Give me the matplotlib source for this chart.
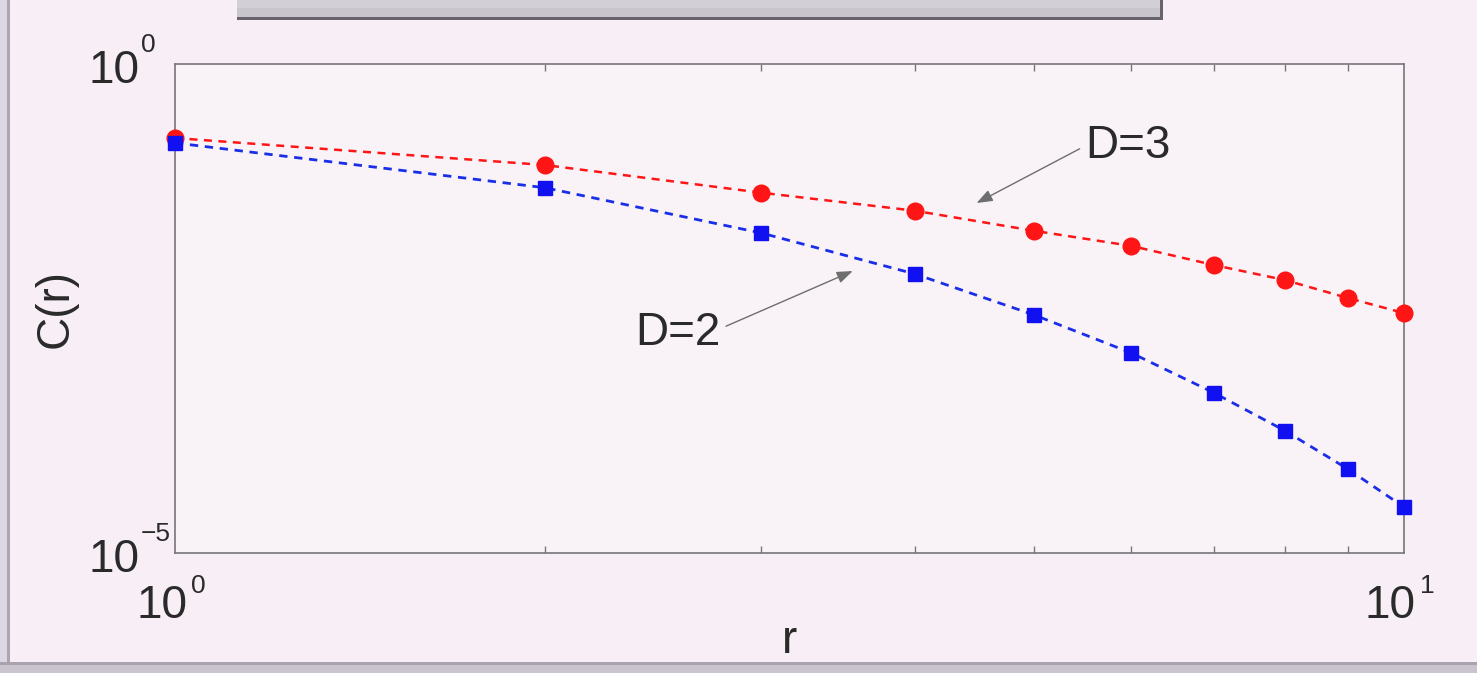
import matplotlib
matplotlib.use("Agg")
import matplotlib.pyplot as plt
from matplotlib.patches import Rectangle
from matplotlib.ticker import FixedLocator, NullLocator, NullFormatter
from matplotlib.transforms import blended_transform_factory, ScaledTranslation

plt.rcParams["font.family"] = ["Liberation Sans", "DejaVu Sans"]

# correlation function C(r) versus distance r
r = [1, 2, 3, 4, 5, 6, 7, 8, 9, 10]
c_d3 = [0.175, 0.0927, 0.0483, 0.0316, 0.0197, 0.0138, 0.00881, 0.00618, 0.00405, 0.00284]
c_d2 = [0.156, 0.0543, 0.0187, 0.00713, 0.00272, 0.00111, 0.000436, 0.000178, 7.23e-5, 2.95e-5]

x_limits = [1, 10]
y_limits = [1e-5, 1e0]
x_ticks = [1, 10]
x_exponents = ["0", "1"]
x_minor = [2, 3, 4, 5, 6, 7, 8, 9]
y_ticks = [1e-5, 1e0]
y_exponents = ["\u22125", "0"]

W, H = 1477, 673
DPI = 100
fig = plt.figure(figsize=(W / DPI, H / DPI), dpi=DPI, facecolor="#f7eff5")
TXT = "#2a2a2a"
FS = 33
FS_EXP = 19


def px_rect(x0, y0, x1, y1, **kw):
    # rectangle given in pixel coordinates measured from the top-left corner
    fig.add_artist(Rectangle((x0 / W, 1 - y1 / H), (x1 - x0) / W, (y1 - y0) / H,
                             transform=fig.transFigure, **kw))


def shift(base, dx, dy):
    # offset a transform by a number of pixels (dy positive = downwards)
    return base + ScaledTranslation(dx / DPI, -dy / DPI, fig.dpi_scale_trans)


# slide frame around the figure
px_rect(0, 0, 8, H, facecolor="#dcd7e0", edgecolor="none")
px_rect(7, 0, 10, H, facecolor="#aaa5b0", edgecolor="none")
px_rect(0, 664, W, H, facecolor="#c9c4cd", edgecolor="none")
px_rect(0, 662, W, 665, facecolor="#a8a3ad", edgecolor="none")
# title box along the top edge
px_rect(237, 0, 1163, 19, facecolor="#c9c5cd", edgecolor="none")
px_rect(237, 0, 1163, 8, facecolor="#d3cfd6", edgecolor="none")
px_rect(237, 17, 1163, 20, facecolor="#66636c", edgecolor="none")
px_rect(1160, 0, 1163, 20, facecolor="#66636c", edgecolor="none")

ax = fig.add_axes([175 / W, 1 - 553 / H, (1404 - 175) / W, (553 - 64) / H])
ax.set_facecolor("#f9f3f8")
ax.set_xscale("log")
ax.set_yscale("log")
ax.set_xlim(x_limits)
ax.set_ylim(y_limits)

ax.plot(r, c_d3, color="#ff1515", ls="--", lw=1.8, dashes=(3.2, 2.6),
        marker="o", ms=12, mec="#ff1515", mfc="#ff1515", zorder=3, clip_on=False)
ax.plot(r, c_d2, color="#1a2ee8", ls="--", lw=2.0, dashes=(3.0, 2.4),
        marker="s", ms=9.5, mec="#1010f0", mfc="#1010f0", zorder=3, clip_on=False)

for s in ax.spines.values():
    s.set_color("#77747c")
    s.set_linewidth(1.2)

ax.xaxis.set_major_locator(FixedLocator(x_ticks))
ax.xaxis.set_minor_locator(FixedLocator(x_minor))
ax.xaxis.set_major_formatter(NullFormatter())
ax.xaxis.set_minor_formatter(NullFormatter())
ax.yaxis.set_major_locator(FixedLocator(y_ticks))
ax.yaxis.set_minor_locator(NullLocator())
ax.yaxis.set_major_formatter(NullFormatter())
ax.tick_params(which="both", direction="in", top=True, right=True, color="#77747c")
ax.tick_params(which="minor", length=5, width=1)
ax.tick_params(which="major", length=0)

# power-of-ten tick labels with a raised exponent
bx = blended_transform_factory(ax.transData, ax.transAxes)
for xv, ex in zip(x_ticks, x_exponents):
    ax.text(xv, 0, "10", transform=shift(bx, 12, 65), fontsize=FS, color=TXT,
            ha="right", va="baseline", clip_on=False)
    ax.text(xv, 0, ex, transform=shift(bx, 16, 40), fontsize=FS_EXP, color=TXT,
            ha="left", va="baseline", clip_on=False)

by = blended_transform_factory(ax.transAxes, ax.transData)
for yv, ex in zip(y_ticks, y_exponents):
    ax.text(0, yv, "10", transform=shift(by, -87, 19), fontsize=FS, color=TXT,
            ha="left", va="baseline", clip_on=False)
    ax.text(0, yv, ex, transform=shift(by, -34, -12), fontsize=FS_EXP, color=TXT,
            ha="left", va="baseline", clip_on=False)

ax.set_xlabel("r", fontsize=FS, color=TXT)
ax.set_ylabel("C(r)", fontsize=FS, color=TXT)
ax.xaxis.set_label_coords(0.5, -0.135)
ax.yaxis.set_label_coords(-0.079, 0.5)

arrow = dict(arrowstyle="-|>,head_length=0.8,head_width=0.3", color="#6e6e6e",
             lw=1.0, shrinkA=2, shrinkB=0, mutation_scale=12)
ax.annotate("D=3", xy=(4.49, 0.0379), xytext=(5.50, 0.145), fontsize=FS,
            ha="left", va="center", color=TXT,
            arrowprops=dict(arrow, relpos=(0, 0.5)))
ax.annotate("D=2", xy=(3.56, 0.00764), xytext=(2.78, 0.00178), fontsize=FS,
            ha="right", va="center", color=TXT,
            arrowprops=dict(arrow, relpos=(1, 0.6)))

fig.savefig("out.png", dpi=DPI, facecolor=fig.get_facecolor())
